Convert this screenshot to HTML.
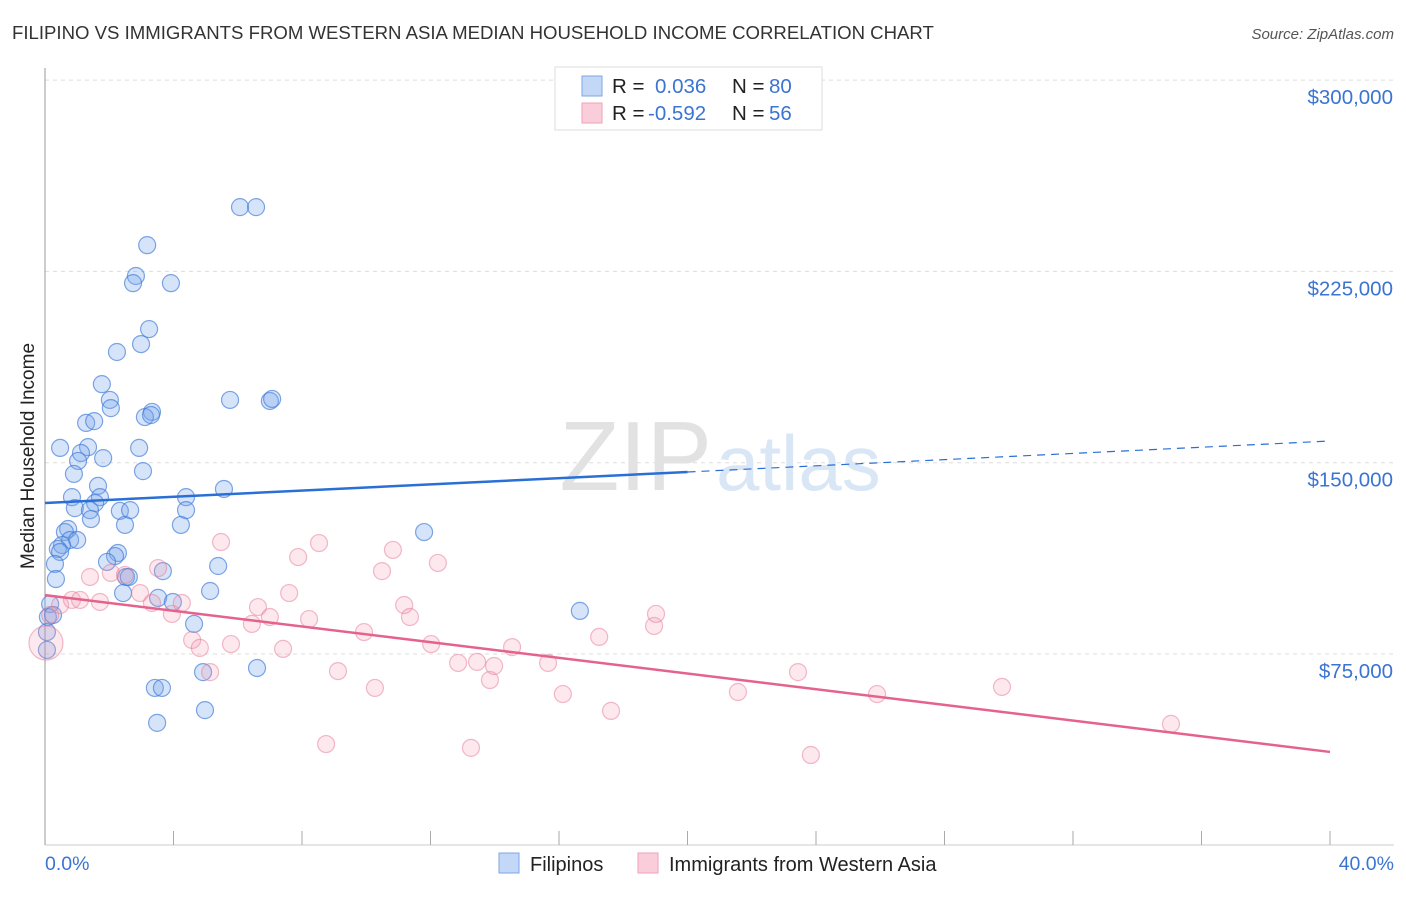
<!DOCTYPE html>
<html><head><meta charset="utf-8"><style>
body{margin:0;background:#fff;font-family:"Liberation Sans",sans-serif;}
svg text{font-family:"Liberation Sans",sans-serif;}
</style></head><body>
<svg width="1406" height="892" viewBox="0 0 1406 892">
<text x="12" y="39" font-size="18.6" fill="#333">FILIPINO VS IMMIGRANTS FROM WESTERN ASIA MEDIAN HOUSEHOLD INCOME CORRELATION CHART</text>
<text x="1394" y="39" font-size="15" fill="#555" text-anchor="end" font-style="italic">Source: ZipAtlas.com</text>
<g id="grid"></g>
<text x="712" y="490" font-size="98" fill="#e2e2e2" text-anchor="end" font-family="Liberation Serif">ZIP</text>
<text x="716" y="490" font-size="78" fill="#d9e6f6">atlas</text>
<line x1="45" y1="68" x2="45" y2="845" stroke="#aaa" stroke-width="1.2"/>
<line x1="45" y1="845" x2="1394" y2="845" stroke="#ccc" stroke-width="1"/>
<g id="ticks"></g>
<g id="pts"></g>
<g id="trends"></g>
<text x="34" y="456" font-size="19" fill="#222" text-anchor="middle" transform="rotate(-90 34 456)">Median Household Income</text>
<text x="45" y="870" font-size="19.5" fill="#3b74d1">0.0%</text>
<text x="1394" y="870" font-size="19.5" fill="#3b74d1" text-anchor="end">40.0%</text>
<g>
<rect x="555" y="67" width="267" height="63" fill="#fff" stroke="#ddd"/>
<rect x="582" y="76" width="20" height="20" fill="#c3d8f7" stroke="#7ea6e6"/>
<rect x="582" y="103" width="20" height="20" fill="#f9cdd9" stroke="#eea3b8"/>
<text x="612" y="93" font-size="20.5" fill="#222">R = </text><text x="655" y="93" font-size="20.5" fill="#3b74d1">0.036</text>
<text x="732" y="93" font-size="20.5" fill="#222">N = </text><text x="769" y="93" font-size="20.5" fill="#3b74d1">80</text>
<text x="612" y="120" font-size="20.5" fill="#222">R = </text><text x="648" y="120" font-size="20.5" fill="#3b74d1">-0.592</text>
<text x="732" y="120" font-size="20.5" fill="#222">N = </text><text x="769" y="120" font-size="20.5" fill="#3b74d1">56</text>
</g>
<g>
<rect x="499" y="853" width="20" height="20" fill="#c3d8f7" stroke="#7ea6e6"/>
<text x="530" y="871" font-size="20" fill="#222">Filipinos</text>
<rect x="638" y="853" width="20" height="20" fill="#f9cdd9" stroke="#eea3b8"/>
<text x="669" y="871" font-size="20" fill="#222">Immigrants from Western Asia</text>
</g>
</svg>
<script>
const yTicks=[75000,150000,225000,300000];
const yTickLabels=["$75,000","$150,000","$225,000","$300,000"];
const xTicks=[0,4,8,12,16,20,24,28,32,36,40];
const blueX=[6.07,6.57,3.18,2.83,2.74,3.92,3.24,2.99,2.24,1.77,2.02,2.05,3.33,3.11,5.76,7.00,1.28,1.53,0.47,1.34,2.93,1.12,1.03,1.81,0.90,3.05,1.65,5.57,0.84,1.71,1.56,4.39,0.93,1.40,2.33,2.65,4.39,1.43,2.49,4.23,0.72,0.62,0.78,1.00,0.53,0.40,0.47,2.27,2.18,1.93,0.31,5.39,3.67,2.52,2.61,0.34,5.14,16.65,2.43,3.52,3.98,0.16,0.09,0.25,4.64,0.06,0.06,6.60,4.92,3.42,3.64,4.98,3.49,11.80,7.07,3.30];
const blueY=[250.2,250.2,235.3,223.2,220.4,220.4,202.4,196.5,193.4,180.8,174.6,171.4,169.9,167.9,174.6,174.2,165.6,166.3,155.8,156.1,155.8,153.8,150.7,151.8,145.6,146.7,140.9,139.7,136.5,136.5,134.2,136.5,132.2,131.4,131.1,131.4,131.4,127.9,125.6,125.6,124.0,122.8,119.7,119.7,117.7,116.2,115.0,114.6,113.4,111.1,110.3,109.5,107.5,105.2,105.2,104.4,99.7,91.9,98.9,97.0,95.4,94.6,89.5,90.3,86.8,83.6,76.6,69.5,67.9,61.7,61.7,53.0,48.0,122.8,175.0,168.7];
const pinkX=[0.03,0.16,0.47,0.84,1.09,1.71,1.40,2.05,2.49,2.96,3.33,3.52,3.95,4.26,4.58,4.82,5.14,5.48,5.79,6.44,6.63,7.00,7.41,7.60,7.88,8.22,8.53,8.75,9.12,9.93,10.27,10.49,10.83,11.18,11.36,12.02,12.23,12.86,13.26,13.45,13.85,13.98,14.54,15.66,16.12,17.25,17.62,18.96,19.02,21.57,23.44,23.84,25.90,29.79,35.05];
const pinkY=[79.3,90.3,94.2,96.2,96.2,95.4,105.2,106.8,106.0,98.9,95.0,108.7,90.7,95.0,80.5,77.4,67.9,118.9,78.9,86.8,93.4,89.5,77.0,98.9,113.0,88.7,118.5,39.7,68.3,83.6,61.7,107.5,115.8,94.2,89.5,78.9,110.7,71.5,38.2,71.9,64.8,70.3,77.7,71.5,59.3,81.7,52.7,86.0,90.7,60.1,67.9,35.4,59.3,62.1,47.6];
const blueTrend=[134.2,158.5];
const pinkTrend=[98.1,36.6];
const NS="http://www.w3.org/2000/svg";
const xs=p=>45+p*1285/40;
const ys=v=>654-(v-75000)*191.3/75000;
const yk=k=>ys(k*1000);
function mk(t,a,parent){const e=document.createElementNS(NS,t);for(const k in a)e.setAttribute(k,a[k]);document.getElementById(parent).appendChild(e);return e;}
yTicks.forEach((v,i)=>{
 const l=mk('line',{x1:45,x2:1394,y1:ys(v),y2:ys(v),stroke:'#ddd','stroke-dasharray':'4,4'},'grid');
 
 
 const t=mk('text',{x:1393,y:ys(v)+24,'font-size':20.5,fill:'#3b74d1','text-anchor':'end'},'grid');
 t.textContent=yTickLabels[i];
 
 
});
xTicks.forEach(p=>{
 const l=mk('line',{x1:xs(p),x2:xs(p),y1:831,y2:845,stroke:'#aaa'},'ticks');
 
 
});
blueX.forEach((x,i)=>{
 const c=mk('circle',{cx:xs(x),cy:yk(blueY[i]),r:8.5,fill:'rgba(120,165,235,0.3)',stroke:'rgba(60,120,215,0.65)','stroke-width':1.2},'pts');
 
 
});
pinkX.forEach((x,i)=>{
 const c=mk('circle',{cx:xs(x),cy:yk(pinkY[i]),r:i==0?17:8.5,fill:'rgba(240,150,175,0.22)',stroke:'rgba(230,120,150,0.5)','stroke-width':1.2},'pts');
 
 
});
const bAt=p=>blueTrend[0]+(blueTrend[1]-blueTrend[0])*p/40;
const pAt=p=>pinkTrend[0]+(pinkTrend[1]-pinkTrend[0])*p/40;
let l=mk('line',{x1:xs(0),y1:yk(bAt(0)),x2:xs(20),y2:yk(bAt(20)),stroke:'#2a6fd6','stroke-width':2.5},'trends');


l=mk('line',{x1:xs(20),y1:yk(bAt(20)),x2:xs(40),y2:yk(bAt(40)),stroke:'#2a6fd6','stroke-width':1.2,'stroke-dasharray':'8,6'},'trends');


l=mk('line',{x1:xs(0),y1:yk(pAt(0)),x2:xs(40),y2:yk(pAt(40)),stroke:'#e4628d','stroke-width':2.5},'trends');


</script>
</body></html>
